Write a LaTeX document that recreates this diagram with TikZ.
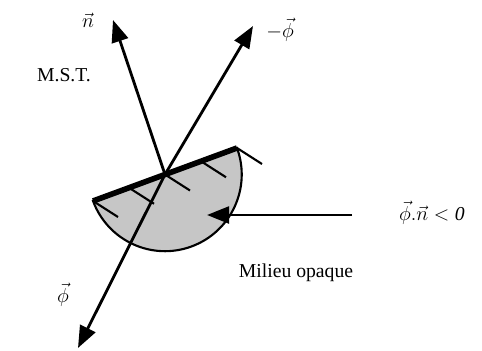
\documentclass[tikz,border=0pt]{standalone}
\usepackage{fontspec}
\setmainfont{Liberation Serif}
\usetikzlibrary{arrows.meta,calc}

\begin{document}
\begin{tikzpicture}[x=0.025cm, y=-0.025cm, every node/.style={font=\fontsize{14}{16}\selectfont},
    vec/.style={-{Triangle[length=0.55cm,width=0.42cm]}, line width=2pt},
    hatch/.style={line width=1.5pt}]
    \useasboundingbox (0,0) rectangle (482,350);
    % opaque medium: half disk under the surface
    \coordinate (o) at (165,174.5);
    \coordinate (a) at (93,201);
    \coordinate (b) at (237,148);
    \filldraw[fill=gray!45, line width=1.5pt] (b) arc[start angle=-20.2, end angle=159.8, radius=76.7] -- cycle;
    \draw[line width=4pt] (a) -- (b);
    \foreach \t in {0,0.25,0.5,0.75,1}
        \draw[hatch] ($(a)!\t!(b)$) -- ++(25,16);
    % vectors
    \coordinate (ntip) at (113,20);
    \coordinate (mtip) at (253,26);
    \coordinate (ftip) at (78,348);
    \draw[vec] (o) -- (ntip);
    \draw[vec] (o) -- (mtip);
    \draw[vec] (o) -- (ftip);
    \coordinate (in) at (352,215);
    \coordinate (intip) at (207,215);
    \draw[vec] (in) -- (intip);
    % labels
    \node (n) at (88,20) {$\vec{n}$};
    \node (mphi) at (280,30) {$-\vec{\phi}$};
    \node (phi) at (63,295) {$\vec{\phi}$};
    \node (mst) at (64,75) {M.S.T.};
    \node (cond) at (432,213) {$\vec{\phi}.\vec{n} < \mathit{0}$};
    \node (mil) at (296,273) {Milieu opaque};
\end{tikzpicture}
\end{document}
